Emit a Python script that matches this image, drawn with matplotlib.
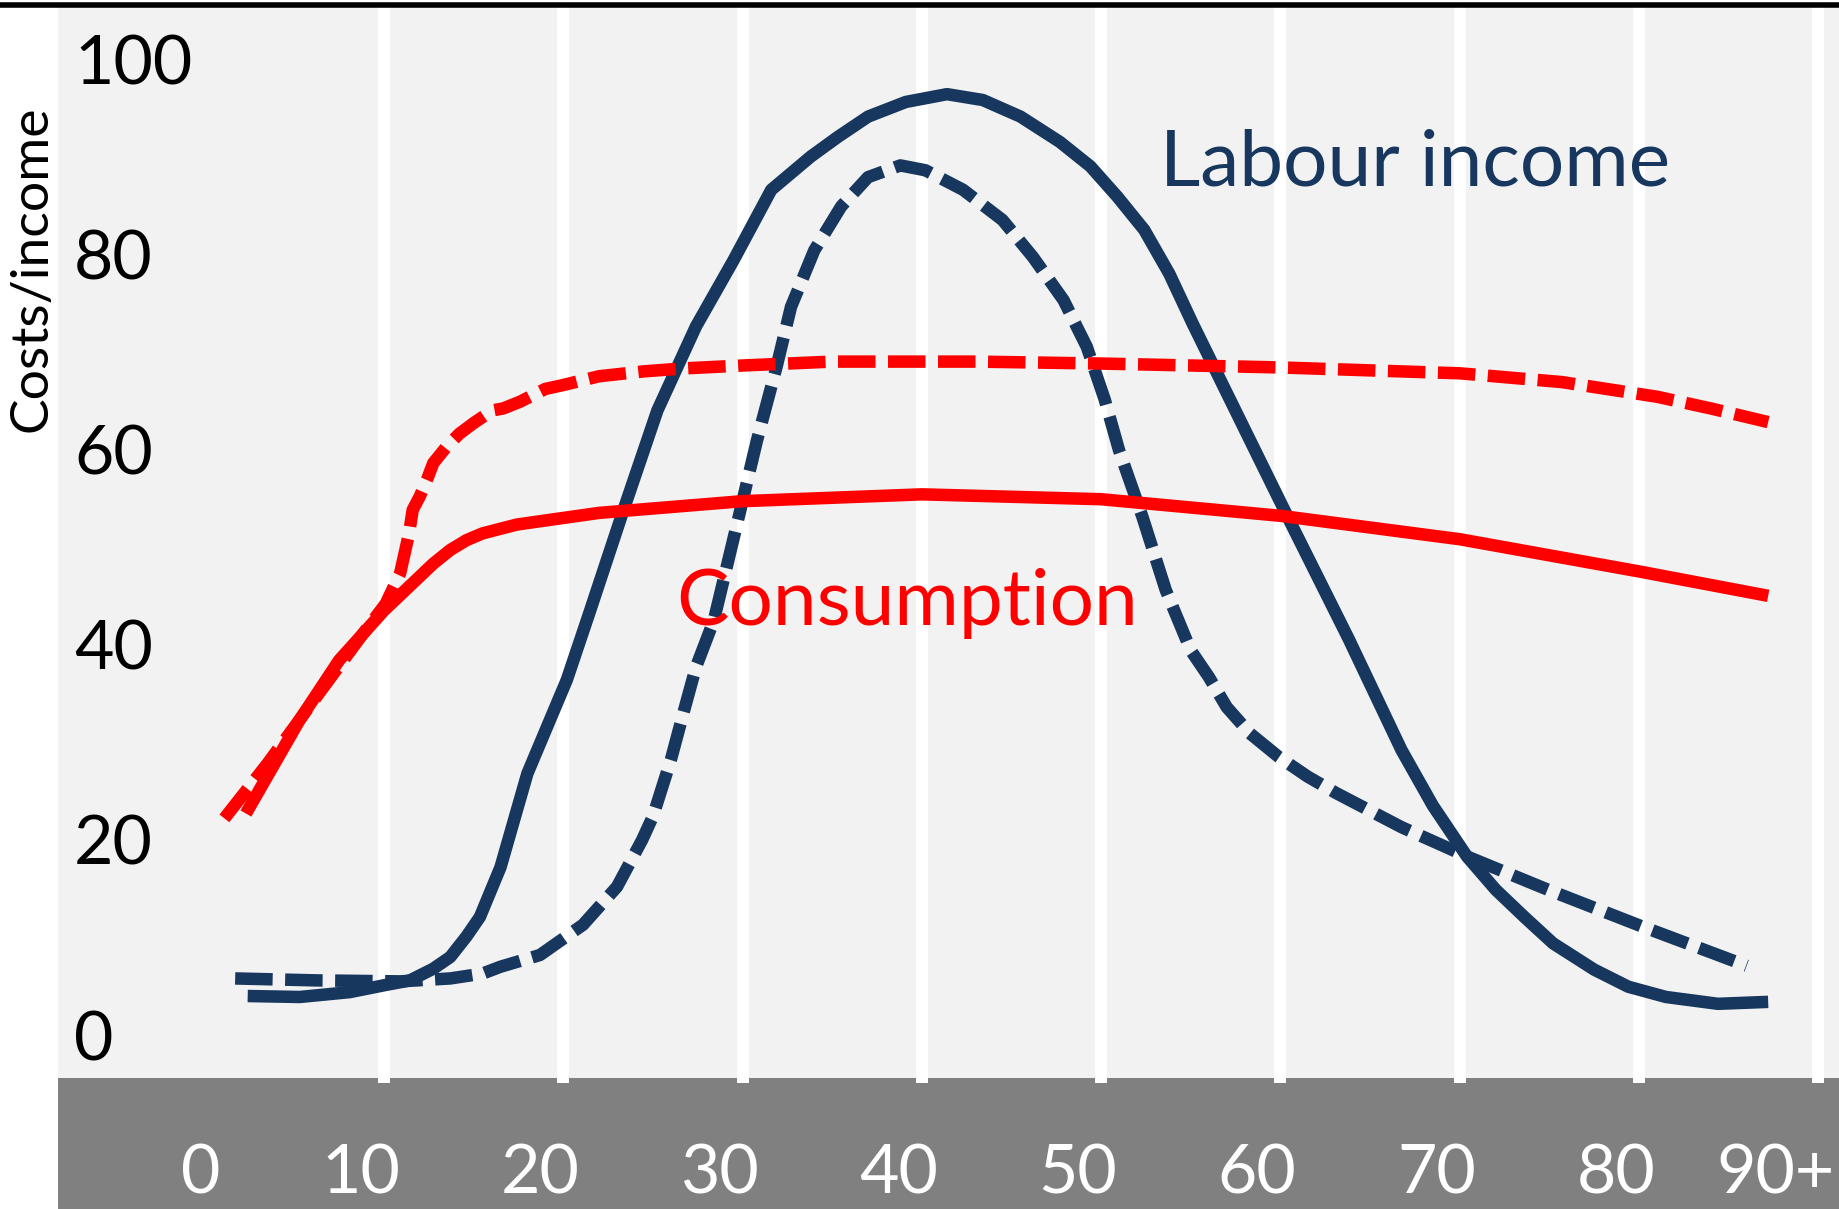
import matplotlib
matplotlib.use("Agg")
import matplotlib.pyplot as plt
import matplotlib.transforms as mtransforms
from matplotlib.lines import Line2D
from matplotlib.patches import Rectangle

plt.rcParams["font.family"] = ["Lato", "DejaVu Sans"]

# Colours
NAVY = "#17375e"
RED = "#ff0000"
PLOT_BG = "#f2f2f2"
BAND = "#808080"

# Data (age, value)
labour_solid_x = [2.4, 5.3, 8.1, 10.0, 11.45, 12.75, 13.7, 14.6, 15.35, 16.5,
                  18.0, 19.1, 20.2, 21.5, 23.25, 25.25, 27.4, 29.5, 31.6,
                  33.8, 35.3, 37.0, 39.1, 41.4, 43.4, 45.5, 47.7, 49.4,
                  50.9, 52.4, 53.8, 55.1, 60.4, 63.8, 66.75, 68.5, 70.4,
                  72.0, 73.6, 75.2, 77.5, 79.4, 81.5, 84.4, 87.2]
labour_solid_y = [4.1, 4.0, 4.5, 5.2, 5.7, 6.9, 8.1, 10.2, 12.2, 17.3,
                  26.9, 31.7, 36.5, 43.6, 53.3, 64.1, 72.7, 79.5, 86.7,
                  90.1, 92.1, 94.2, 95.7, 96.5, 95.9, 94.2, 91.6, 89.1,
                  86.0, 82.6, 78.1, 73.0, 53.2, 40.7, 29.3, 23.6, 18.4,
                  15.0, 12.2, 9.5, 6.8, 5.05, 4.0, 3.3, 3.5]

labour_dash_x = [1.7, 6.25, 10.9, 13.7, 15.5, 16.5, 18.7, 21.1, 23.0, 24.4,
                 25.0, 26.0, 26.7, 27.4, 28.4, 29.8, 30.8, 31.9, 32.7, 34.0,
                 35.5, 37.0, 38.8, 40.2, 42.3, 44.5, 46.2, 47.9, 49.2, 50.2,
                 51.0, 52.3, 53.6, 55.0, 56.0, 57.0, 58.3, 59.9, 61.5, 63.1,
                 66.75, 70.4, 74.9, 80.2, 86.0]
labour_dash_y = [5.9, 5.7, 5.6, 5.9, 6.4, 7.1, 8.3, 11.4, 15.3, 20.1,
                 22.5, 28.3, 33.1, 37.8, 42.6, 53.3, 61.0, 68.6, 74.7, 80.5,
                 85.0, 88.0, 89.2, 88.7, 86.7, 83.6, 79.8, 75.4, 70.6, 65.2,
                 60.0, 53.2, 45.7, 39.5, 36.8, 33.7, 31.0, 28.6, 26.6, 24.9,
                 21.4, 18.4, 15.0, 11.2, 7.2]

cons_solid_x = [2.3, 5.3, 7.5, 10.0, 12.75, 13.7, 14.6, 15.5, 17.4, 19.3,
                22.0, 30.0, 40.0, 50.0, 60.0, 70.0, 80.0, 87.2]
cons_solid_y = [22.8, 32.4, 38.5, 43.6, 48.4, 49.8, 50.8, 51.5, 52.4, 52.9,
                53.6, 54.8, 55.5, 55.0, 53.3, 50.9, 47.6, 45.1]

cons_dash_x = [1.1, 3.5, 6.25, 8.7, 10.1, 10.9, 11.4, 11.6, 12.0, 12.4,
               12.75, 13.5, 14.2, 15.0, 16.05, 16.65, 17.6, 19.0, 20.0,
               22.0, 24.5, 26.7, 30.0, 35.0, 43.0, 50.0, 60.0, 70.0, 75.7,
               81.0, 84.0, 87.2]
cons_dash_y = [22.3, 27.9, 34.8, 40.9, 44.3, 47.4, 51.5, 53.9, 55.3, 57.0,
               58.7, 60.4, 61.7, 62.8, 64.1, 64.3, 65.0, 66.3, 66.7,
               67.6, 68.1, 68.4, 68.7, 69.1, 69.1, 68.9, 68.5, 67.9, 67.0,
               65.5, 64.3, 62.9]

x_ticks = [0, 10, 20, 30, 40, 50, 60, 70, 80, 90]
x_labels = ["0", "10", "20", "30", "40", "50", "60", "70", "80", "90+"]
grid_x = [10, 20, 30, 40, 50, 60, 70, 80, 90]
y_ticks = [0, 20, 40, 60, 80, 100]

W, H = 1839, 1209
fig = plt.figure(figsize=(W / 100, H / 100), dpi=100)
ax = fig.add_axes([58 / W, (H - 1078) / H, (W - 58) / W, (1078 - 7.3) / H])
ax.set_facecolor(PLOT_BG)
ax.set_xlim(-8.18, 91.15)
ax.set_ylim(-4.3, 105.4)
for s in ax.spines.values():
    s.set_visible(False)
ax.set_xticks([])
ax.set_yticks([])

# dark band under the plot
fig.patches.append(Rectangle((58 / W, 0), (W - 58) / W, (H - 1078) / H,
                             transform=fig.transFigure, facecolor=BAND,
                             edgecolor="none", zorder=-1))

# white vertical grid lines, a bit into the band
ax.vlines(grid_x, -4.85, 105.4, colors="white", linewidth=8.6,
          clip_on=False, zorder=1)

lw = 9
ax.plot(labour_solid_x, labour_solid_y, color=NAVY, lw=lw,
        solid_capstyle="butt", solid_joinstyle="round", zorder=3)
ax.plot(labour_dash_x, labour_dash_y, color=NAVY, lw=lw,
        linestyle=(0, (3.0, 1.0)), dash_joinstyle="round", zorder=3)
ax.plot(cons_solid_x, cons_solid_y, color=RED, lw=lw,
        solid_capstyle="butt", solid_joinstyle="round", zorder=4)
ax.plot(cons_dash_x, cons_dash_y, color=RED, lw=lw,
        linestyle=(0, (3.0, 1.0)), dash_joinstyle="round", zorder=4)

# y tick labels drawn inside the plot area
ytrans = mtransforms.blended_transform_factory(ax.transAxes, ax.transData)
ytrans = ytrans + mtransforms.ScaledTranslation(0, -24 / 100, fig.dpi_scale_trans)
for v in y_ticks:
    ax.text(16 / (W - 58), v, str(v), transform=ytrans, ha="left",
            va="baseline", fontsize=49, color="black")

# x tick labels in the band
xtrans = mtransforms.blended_transform_factory(ax.transData, ax.transAxes)
xtrans = xtrans + mtransforms.ScaledTranslation(16 / 100, 0, fig.dpi_scale_trans)
for v, lab in zip(x_ticks, x_labels):
    ax.text(v, (1078 - 1193) / (1078 - 7.3), lab, transform=xtrans,
            ha="right", va="baseline", fontsize=49, color="white")

ax.text(53.3, 87.1, "Labour income", color=NAVY, fontsize=56.5,
        ha="left", va="baseline", zorder=5)
ax.text(26.3, 42.1, "Consumption", color=RED, fontsize=56.5,
        ha="left", va="baseline", zorder=5)

fig.text(32 / W, 1 - 269 / H, "Costs/income", rotation=90, fontsize=38.5,
         ha="center", va="center", color="black")

# black rule across the top
fig.add_artist(Line2D([0, 1], [1 - 4.5 / H, 1 - 4.5 / H], color="black",
                      linewidth=4, transform=fig.transFigure))

fig.savefig("out.png", dpi=100)
